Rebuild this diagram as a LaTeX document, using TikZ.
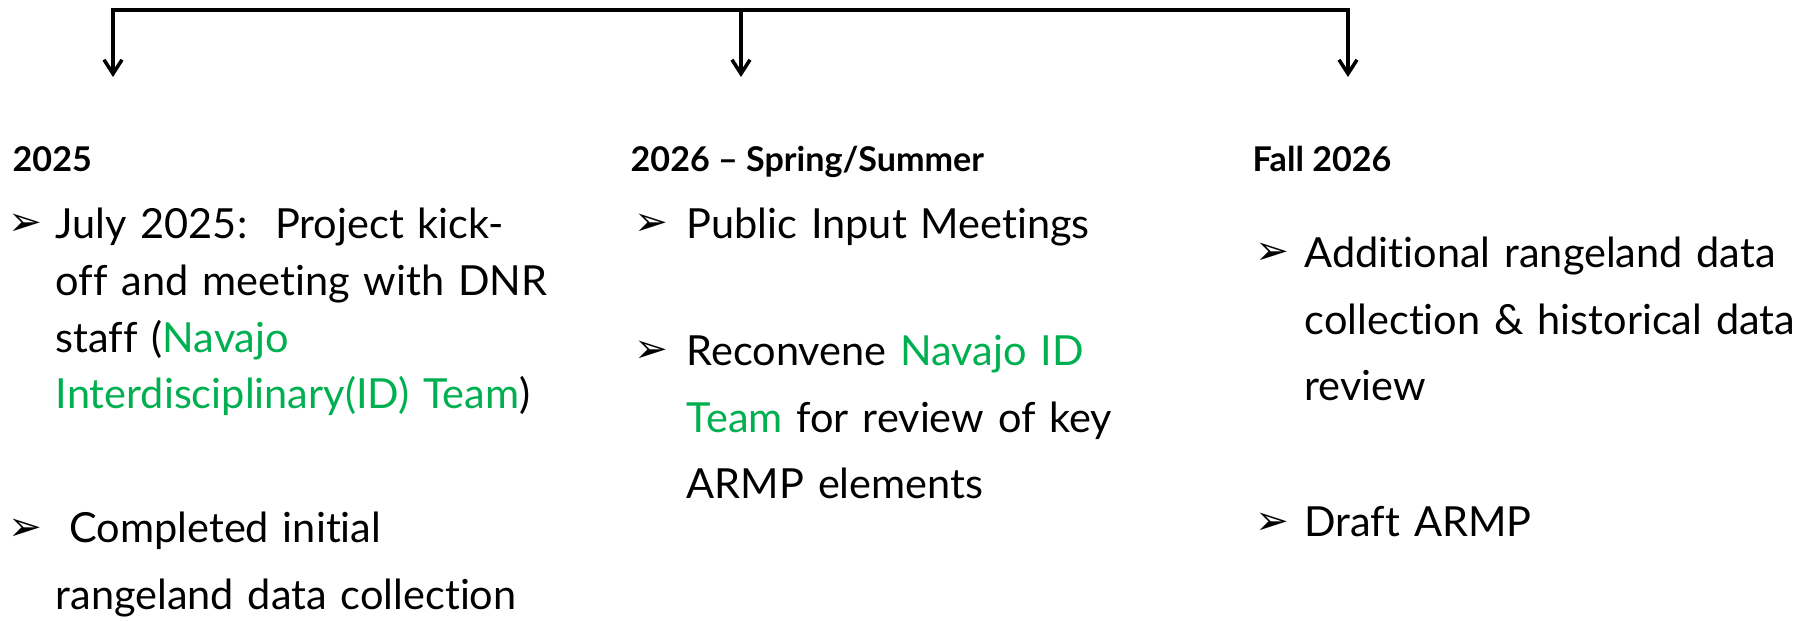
\documentclass[tikz,border=0pt]{standalone}
\usepackage{fontspec}
\setmainfont[Ligatures=CommonOff]{Lato}
\newfontfamily\bltfont{DejaVu Sans}
\usetikzlibrary{arrows.meta}
\definecolor{idgreen}{HTML}{00B050}
\newcommand{\grn}[1]{\textcolor{idgreen}{#1}}
\tikzset{
	link/.style={line width=1pt, line join=miter},
	barb/.style={-{Straight Barb[length=1.4mm,width=1.8mm]}},
	yearhead/.style={font=\bfseries\fontsize{9.7}{11}\selectfont, anchor=base west, inner sep=0pt},
	item/.style={font=\fontsize{11.8}{18.8}\selectfont, anchor=base west, inner sep=0pt, text width=6cm, align=left},
	tight/.style={font=\fontsize{11.8}{16.1}\selectfont},
	bullet/.style={font=\bltfont\fontsize{11.5}{11.5}\selectfont, anchor=base west, inner sep=0pt},
}
\begin{document}
\begin{tikzpicture}
\useasboundingbox (0,0) rectangle (18.10,-6.21);

\foreach[count=\i] \x in {1.13,7.41,13.48}{
	\coordinate(t\i) at(\x,-0.10);
	\coordinate(d\i) at(\x,-0.77);
}

\draw[link, {Straight Barb[length=1.4mm,width=1.8mm]}-{Straight Barb[length=1.4mm,width=1.8mm]}]
(d1) -- (t1) -- (t3) -- (d3)
;
\draw[link, barb] (t2) -- (d2);

\node[yearhead](yr1) at(0.12,-1.72) {2025};
\node[yearhead](yr2) at(6.30,-1.72) {2026 – Spring/Summer};
\node[yearhead](yr3) at(12.52,-1.72) {Fall 2026};

\foreach \n \x \y in {
	b11/0.08/-2.36,b12/0.08/-5.40%
	,b21/6.34/-2.36,b22/6.34/-3.63%
	,b31/12.55/-2.65,b32/12.55/-5.34%
}{
	\node[bullet](\n) at(\x,\y) {➢};
}

\node[item, tight](i11) at(0.55,-2.39)
{July 2025:\ \ Project kick-\\off and meeting with DNR\\staff (\grn{Navajo}\\\grn{Interdisciplinary(ID) Team})};
\node[item](i12) at(0.55,-5.43)
{\ Completed initial\\rangeland data collection};

\node[item](i21) at(6.86,-2.39) {Public Input Meetings};
\node[item](i22) at(6.86,-3.66)
{Reconvene \grn{Navajo ID}\\\grn{Team} for review of key\\ARMP elements};

\node[item](i31) at(13.04,-2.68)
{Additional rangeland data\\collection \& historical data\\review};
\node[item](i32) at(13.04,-5.37) {Draft ARMP};

\end{tikzpicture}
\end{document}
